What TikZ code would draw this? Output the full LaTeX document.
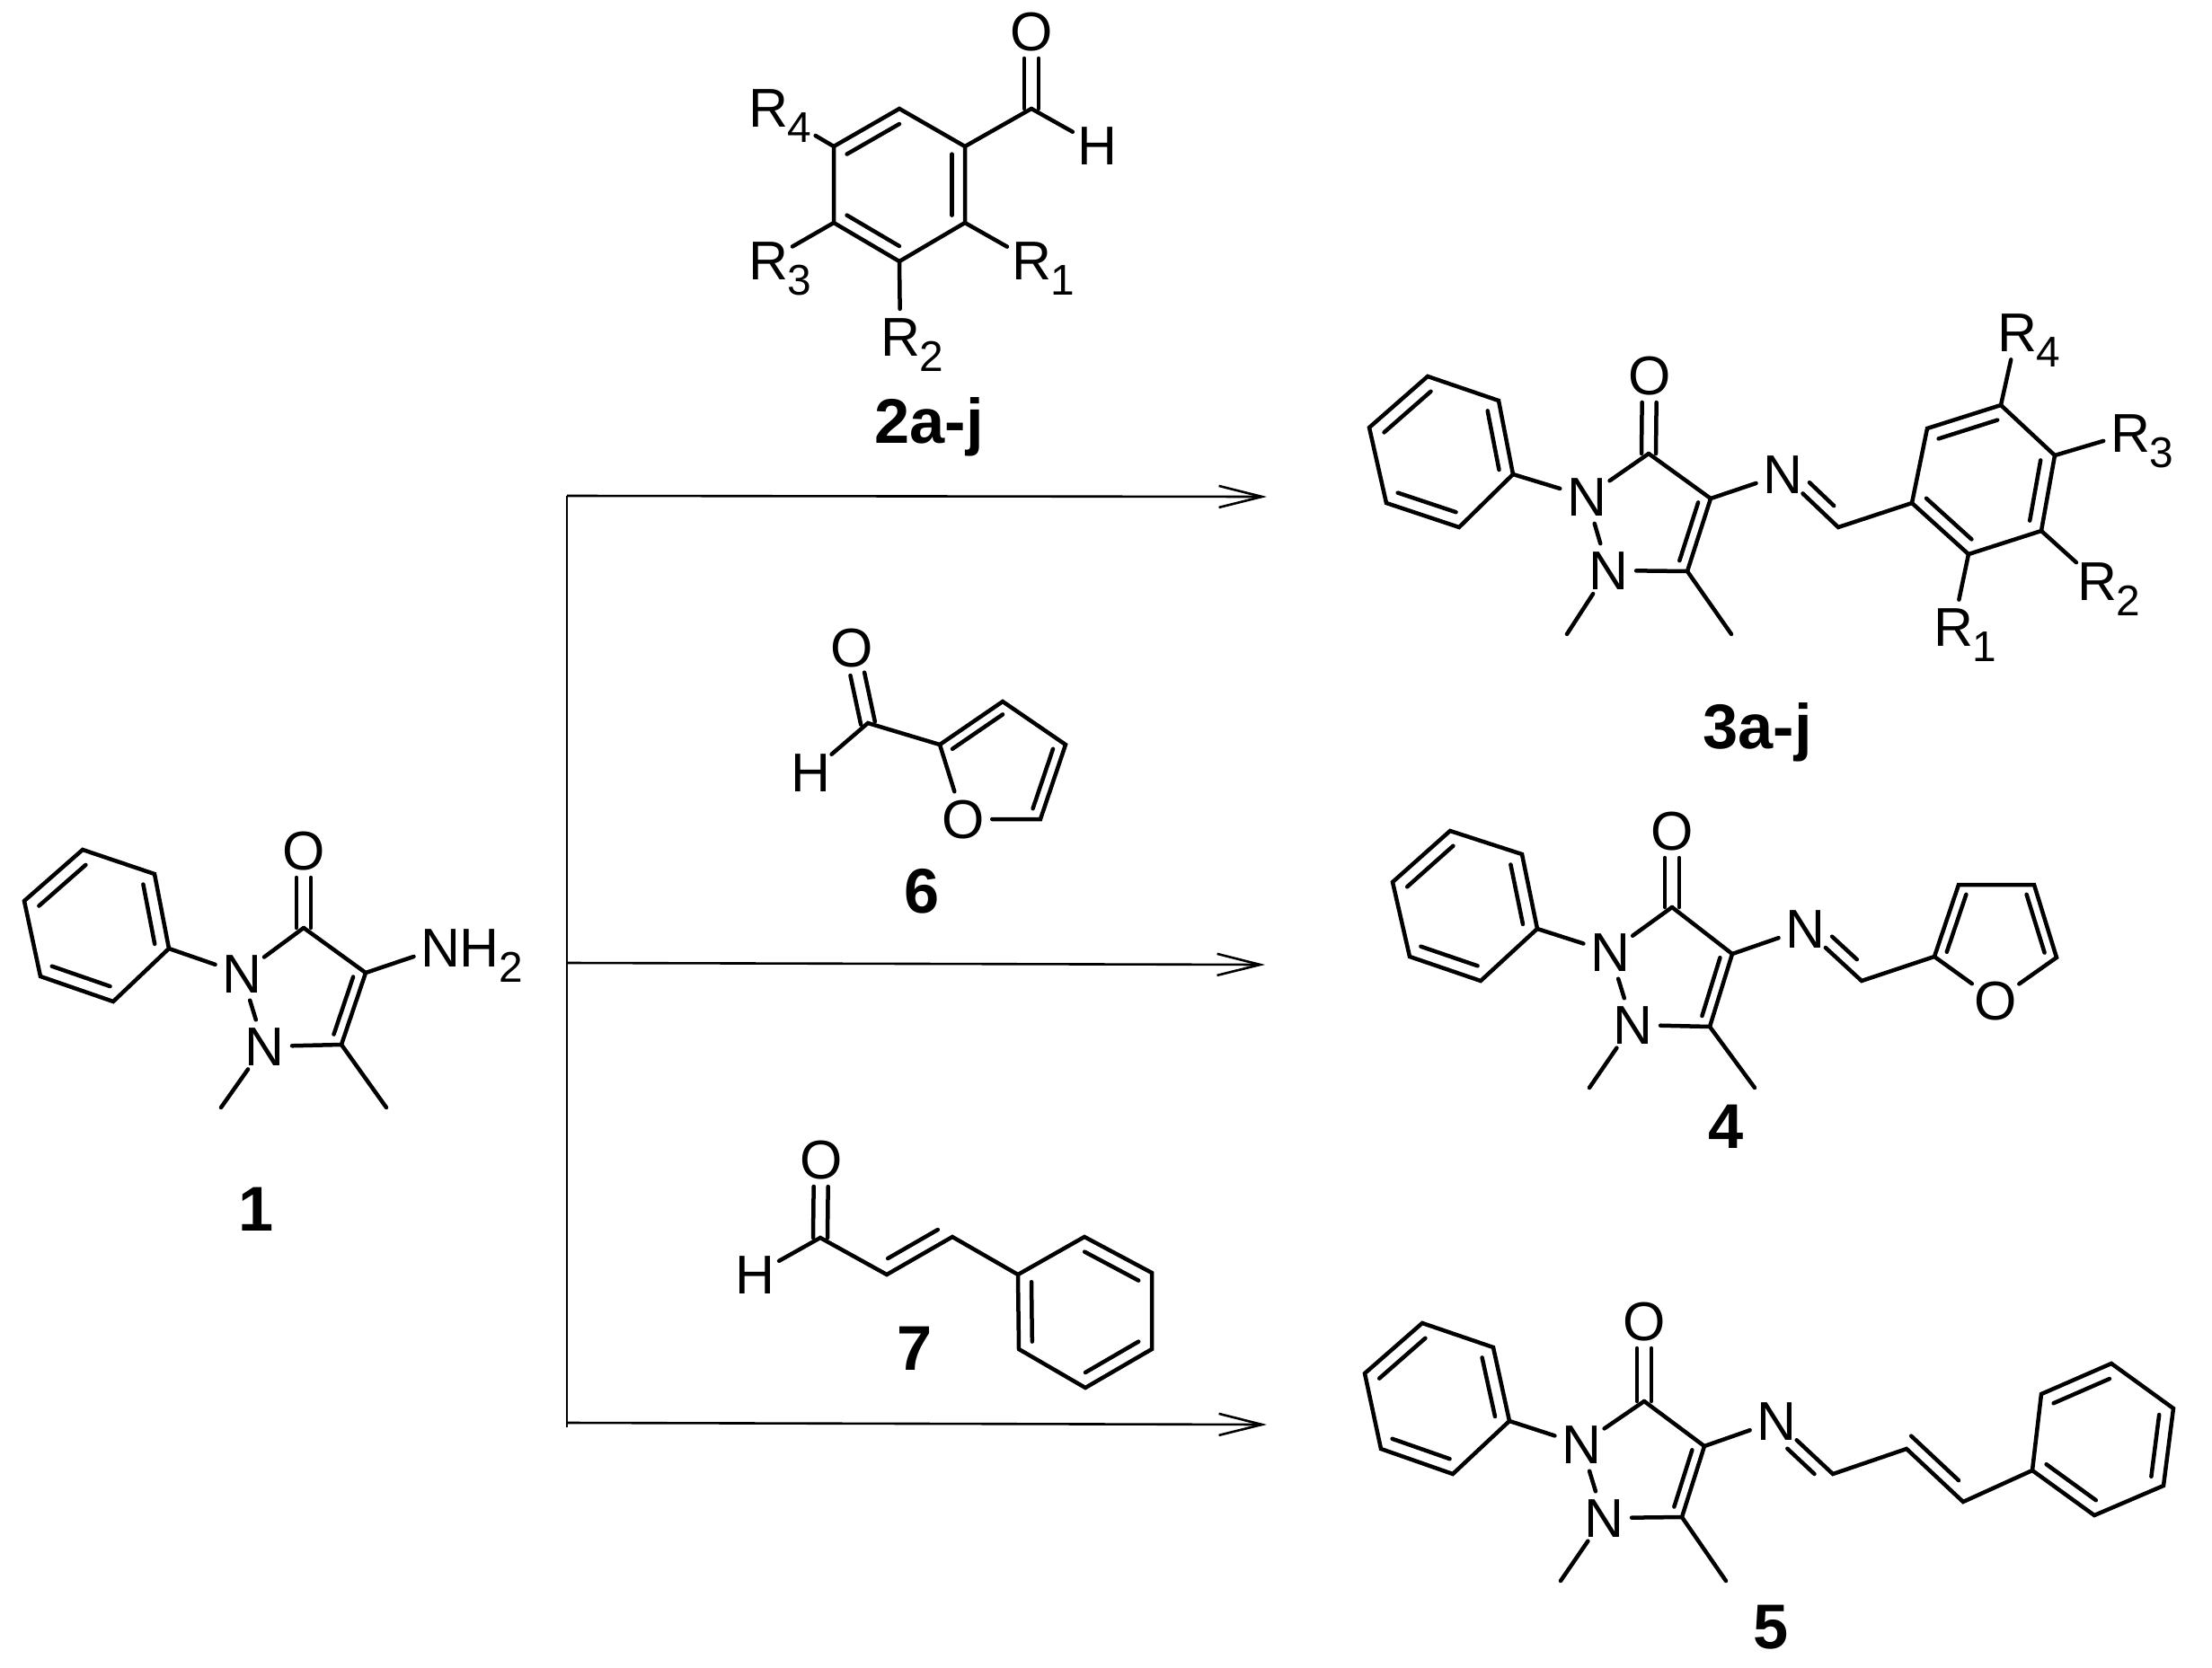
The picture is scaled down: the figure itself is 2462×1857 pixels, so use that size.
\documentclass[tikz,border=0pt]{standalone}
\usepackage{fontspec}
\setmainfont{Liberation Sans}
\usetikzlibrary{arrows.meta,calc}
\tikzset{
    bond/.style={line width=.045cm,line cap=round,line join=miter},
    atom/.style={circle,inner sep=0pt,minimum size=.6cm,text height=.42cm,text depth=0pt,font=\fontsize{17.3}{18}\selectfont},
    compound/.style={inner sep=0pt,anchor=base,font=\bfseries\fontsize{20}{21}\selectfont},
    trunk/.style={line width=.026cm},
    rxnarrow/.style={line width=.026cm,-{Straight Barb[length=.48cm,width=.24cm]}}
}
\newcommand{\subdigit}[1]{\rlap{\smash{\raisebox{-.17cm}{\fontsize{13.6}{14}\selectfont #1}}}}
\newcommand{\ringdbl}[3]{\draw[bond] ($(#1)!.2!(#3)$) -- ($(#2)!.2!(#3)$);}
\newcommand{\offbond}[5]{\draw[bond,shorten <=#4,shorten >=#5] ($(#1)!#3!90:(#2)$) -- ($(#2)!#3!-90:(#1)$);}
\newcommand{\carbonyl}[2]{\offbond{#1}{#2}{.08cm}{0cm}{.3cm}\offbond{#1}{#2}{-.08cm}{0cm}{.3cm}}
\newcommand{\core}[1]{
    \coordinate (#1pc) at ($(#1p1)!.5!(#1p4)$);
    \coordinate (#1rc) at (barycentric cs:#1N1=1,#1N2=1,#1C3=1,#1C4=1,#1C5=1);
    \draw[bond] (#1p1) -- (#1p2) -- (#1p3) -- (#1p4) -- (#1p5) -- (#1p6) -- cycle;
    \ringdbl{#1p1}{#1p6}{#1pc}
    \ringdbl{#1p2}{#1p3}{#1pc}
    \ringdbl{#1p4}{#1p5}{#1pc}
    \draw[bond] (#1p3) -- (#1N1);
    \draw[bond] (#1N1) -- (#1N2);
    \draw[bond] (#1N1) -- (#1C3);
    \draw[bond] (#1C3) -- (#1C4) -- (#1C5);
    \draw[bond] (#1C5) -- (#1N2);
    \draw[bond] (#1N2) -- (#1Me1);
    \draw[bond] (#1C5) -- (#1Me2);
    \ringdbl{#1C4}{#1C5}{#1rc}
    \carbonyl{#1C3}{#1O}
}
\begin{document}
\begin{tikzpicture}[x=.01cm,y=-.01cm]
    \useasboundingbox (0,0) rectangle (2462,1857);

    % reaction lines
    \coordinate (trunktop) at (631,552);
    \coordinate (trunkbot) at (631,1589);
    \coordinate (midstart) at (631,1072);
    \coordinate (botstart) at (631,1584);
    \coordinate (tiptop) at (1410,553);
    \coordinate (tipmid) at (1408,1074);
    \coordinate (tipbot) at (1410,1586);
    \draw[trunk] (trunktop) -- (trunkbot);
    \draw[rxnarrow] (trunktop) -- (tiptop);
    \draw[rxnarrow] (midstart) -- (tipmid);
    \draw[rxnarrow] (botstart) -- (tipbot);

    % 1
    \coordinate (ap1) at (92,946);
    \coordinate (ap2) at (172,973);
    \coordinate (ap3) at (188,1056);
    \coordinate (ap4) at (126,1115);
    \coordinate (ap5) at (45,1087);
    \coordinate (ap6) at (27,1003);
    \coordinate (aC3) at (338,1033);
    \coordinate (aC4) at (407,1083);
    \coordinate (aC5) at (380,1163);
    \coordinate (aMe1) at (246,1233);
    \coordinate (aMe2) at (430,1233);
    \node[atom] (aN1) at (269,1084) {N};
    \node[atom] (aN2) at (294,1165) {N};
    \node[atom] (aO) at (338,947) {O};
    \node[atom] (aN3) at (490,1055) {N\rlap{H\subdigit{2}}};
    \core{a}
    \draw[bond] (aC4) -- (aN3);
    \node[compound] (label1) at (285,1370) {1};

    % 2a-j
    \coordinate (ec1) at (1074,163);
    \coordinate (ec2) at (1001,121);
    \coordinate (ec3) at (928,163);
    \coordinate (ec4) at (928,248);
    \coordinate (ec5) at (1001,291);
    \coordinate (ec6) at (1074,248);
    \coordinate (erc) at (1001,206);
    \coordinate (eC) at (1148,121);
    \node[atom] (eO) at (1148,35) {O};
    \node[atom] (eH) at (1221,162) {H};
    \node[atom] (eR1) at (1148,290) {R\subdigit{1}};
    \node[atom] (eR2) at (1002,375) {R\subdigit{2}};
    \node[atom] (eR3) at (855,290) {R\subdigit{3}};
    \node[atom] (eR4) at (855,120) {R\subdigit{4}};
    \draw[bond] (ec1) -- (ec2) -- (ec3) -- (ec4) -- (ec5) -- (ec6) -- cycle;
    \ringdbl{ec2}{ec3}{erc}
    \ringdbl{ec4}{ec5}{erc}
    \ringdbl{ec1}{ec6}{erc}
    \draw[bond] (ec1) -- (eC);
    \draw[bond] (eC) -- (eH);
    \carbonyl{eC}{eO}
    \draw[bond] (ec6) -- (eR1);
    \draw[bond] (ec5) -- (eR2);
    \draw[bond] (ec4) -- (eR3);
    \draw[bond,shorten >=.3cm] (ec3) -- (eR4);
    \node[compound] (label2) at (1034,493) {2a-j};

    % 3a-j
    \coordinate (bp1) at (1589,419);
    \coordinate (bp2) at (1668,446);
    \coordinate (bp3) at (1684,528);
    \coordinate (bp4) at (1624,587);
    \coordinate (bp5) at (1543,560);
    \coordinate (bp6) at (1524,476);
    \coordinate (bC3) at (1835,505);
    \coordinate (bC4) at (1904,555);
    \coordinate (bC5) at (1878,636);
    \coordinate (bMe1) at (1744,706);
    \coordinate (bMe2) at (1927,706);
    \node[atom] (bN1) at (1766,553) {N};
    \node[atom] (bN2) at (1790,635) {N};
    \node[atom] (bO) at (1836,418) {O};
    \node[atom] (bN3) at (1984,528) {N};
    \core{b}
    \coordinate (bCH) at (2046,587);
    \coordinate (bc1) at (2128,560);
    \coordinate (bc2) at (2145,477);
    \coordinate (bc3) at (2227,451);
    \coordinate (bc4) at (2287,507);
    \coordinate (bc5) at (2272,591);
    \coordinate (bc6) at (2191,617);
    \coordinate (bac) at (2208,534);
    \node[atom] (bR1) at (2174,698) {R\subdigit{1}};
    \node[atom] (bR2) at (2334,647) {R\subdigit{2}};
    \node[atom] (bR3) at (2371,482) {R\subdigit{3}};
    \node[atom] (bR4) at (2245,370) {R\subdigit{4}};
    \draw[bond] (bC4) -- (bN3);
    \draw[bond] (bN3) -- (bCH) -- (bc1);
    \offbond{bN3}{bCH}{.14cm}{.28cm}{.2cm}
    \draw[bond] (bc1) -- (bc2) -- (bc3) -- (bc4) -- (bc5) -- (bc6) -- cycle;
    \ringdbl{bc2}{bc3}{bac}
    \ringdbl{bc4}{bc5}{bac}
    \ringdbl{bc1}{bc6}{bac}
    \draw[bond] (bc6) -- (bR1);
    \draw[bond] (bc5) -- (bR2);
    \draw[bond] (bc4) -- (bR3);
    \draw[bond] (bc3) -- (bR4);
    \node[compound] (label3) at (1956,833) {3a-j};

    % 6
    \coordinate (fC) at (966,805);
    \coordinate (fc2) at (1046,829);
    \coordinate (fc3) at (1116,781);
    \coordinate (fc4) at (1186,829);
    \coordinate (fc5) at (1158,912);
    \coordinate (frc) at (1116,853);
    \node[atom] (fO1) at (948,721) {O};
    \node[atom] (fH) at (902,860) {H};
    \node[atom] (fO2) at (1072,912) {O};
    \draw[bond] (fH) -- (fC) -- (fc2) -- (fc3) -- (fc4) -- (fc5) -- (fO2) -- (fc2);
    \ringdbl{fc2}{fc3}{frc}
    \ringdbl{fc4}{fc5}{frc}
    \carbonyl{fC}{fO1}
    \node[compound] (label6) at (1026,1016) {6};

    % 4
    \coordinate (cp1) at (1614,925);
    \coordinate (cp2) at (1694,951);
    \coordinate (cp3) at (1711,1034);
    \coordinate (cp4) at (1648,1092);
    \coordinate (cp5) at (1569,1065);
    \coordinate (cp6) at (1550,982);
    \coordinate (cC3) at (1861,1010);
    \coordinate (cC4) at (1928,1062);
    \coordinate (cC5) at (1903,1143);
    \coordinate (cMe1) at (1769,1211);
    \coordinate (cMe2) at (1953,1211);
    \node[atom] (cN1) at (1792,1060) {N};
    \node[atom] (cN2) at (1817,1141) {N};
    \node[atom] (cO) at (1861,925) {O};
    \node[atom] (cN3) at (2009,1034) {N};
    \core{c}
    \coordinate (cCH) at (2072,1092);
    \coordinate (cc2) at (2153,1065);
    \coordinate (cc3) at (2180,985);
    \coordinate (cc4) at (2264,985);
    \coordinate (cc5) at (2289,1066);
    \coordinate (cfc) at (2222,1039);
    \node[atom] (cO2) at (2221,1114) {O};
    \draw[bond] (cC4) -- (cN3);
    \draw[bond] (cN3) -- (cCH) -- (cc2) -- (cc3) -- (cc4) -- (cc5) -- (cO2) -- (cc2);
    \offbond{cN3}{cCH}{.14cm}{.28cm}{.2cm}
    \ringdbl{cc2}{cc3}{cfc}
    \ringdbl{cc4}{cc5}{cfc}
    \node[compound] (label4) at (1921,1278) {4};

    % 7
    \coordinate (gC) at (913,1378);
    \coordinate (gCa) at (987,1419);
    \coordinate (gCb) at (1060,1377);
    \coordinate (gc1) at (1133,1419);
    \coordinate (gc2) at (1207,1377);
    \coordinate (gc3) at (1282,1417);
    \coordinate (gc4) at (1282,1502);
    \coordinate (gc5) at (1208,1545);
    \coordinate (gc6) at (1134,1502);
    \coordinate (grc) at (1208,1460);
    \node[atom] (gO) at (914,1291) {O};
    \node[atom] (gH) at (840,1419) {H};
    \draw[bond] (gH) -- (gC) -- (gCa) -- (gCb) -- (gc1);
    \carbonyl{gC}{gO}
    \offbond{gCa}{gCb}{.15cm}{.1cm}{.1cm}
    \draw[bond] (gc1) -- (gc2) -- (gc3) -- (gc4) -- (gc5) -- (gc6) -- cycle;
    \ringdbl{gc2}{gc3}{grc}
    \ringdbl{gc4}{gc5}{grc}
    \ringdbl{gc1}{gc6}{grc}
    \node[compound] (label7) at (1018,1525) {7};

    % 5
    \coordinate (dp1) at (1583,1473);
    \coordinate (dp2) at (1662,1500);
    \coordinate (dp3) at (1680,1582);
    \coordinate (dp4) at (1617,1641);
    \coordinate (dp5) at (1537,1613);
    \coordinate (dp6) at (1519,1529);
    \coordinate (dC3) at (1830,1560);
    \coordinate (dC4) at (1897,1610);
    \coordinate (dC5) at (1872,1689);
    \coordinate (dMe1) at (1737,1760);
    \coordinate (dMe2) at (1921,1760);
    \node[atom] (dN1) at (1760,1608) {N};
    \node[atom] (dN2) at (1785,1690) {N};
    \node[atom] (dO) at (1830,1471) {O};
    \node[atom] (dN3) at (1977,1582) {N};
    \core{d}
    \coordinate (dCH) at (2040,1641);
    \coordinate (dCa) at (2122,1613);
    \coordinate (dCb) at (2185,1672);
    \coordinate (dc1) at (2262,1637);
    \coordinate (dc2) at (2272,1552);
    \coordinate (dc3) at (2350,1518);
    \coordinate (dc4) at (2419,1568);
    \coordinate (dc5) at (2408,1654);
    \coordinate (dc6) at (2331,1687);
    \coordinate (dac) at (2340,1603);
    \draw[bond] (dC4) -- (dN3);
    \draw[bond] (dN3) -- (dCH) -- (dCa) -- (dCb) -- (dc1);
    \offbond{dN3}{dCH}{-.14cm}{.3cm}{.15cm}
    \offbond{dCa}{dCb}{.14cm}{-.06cm}{.2cm}
    \draw[bond] (dc1) -- (dc2) -- (dc3) -- (dc4) -- (dc5) -- (dc6) -- cycle;
    \ringdbl{dc2}{dc3}{dac}
    \ringdbl{dc4}{dc5}{dac}
    \ringdbl{dc1}{dc6}{dac}
    \node[compound] (label5) at (1971,1835) {5};
\end{tikzpicture}
\end{document}
